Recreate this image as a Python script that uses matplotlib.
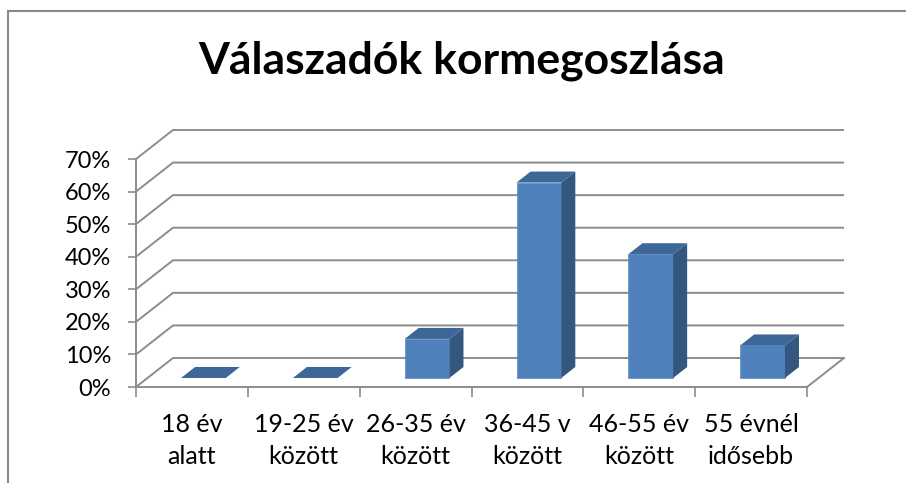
import matplotlib
matplotlib.use("Agg")
import matplotlib.pyplot as plt
from matplotlib.patches import Polygon
from matplotlib.lines import Line2D

categories = ["18 év\nalatt", "19-25 év\nközött", "26-35 év\nközött",
              "36-45 v\nközött", "46-55 év\nközött", "55 évnél\nidősebb"]
values = [0, 0, 12, 60, 38, 10]
yticks = [0, 10, 20, 30, 40, 50, 60, 70]
ytick_labels = [f"{t}%" for t in yticks]
title = "Válaszadók kormegoszlása"

plt.rcParams['font.family'] = ['Lato', 'DejaVu Sans']

W, H = 906, 483
fig = plt.figure(figsize=(W / 100, H / 100), dpi=100)
fig.patch.set_facecolor('white')

# front plane of the 3D box in pixels
x0, x1, yb, yt = 136, 807, 387, 159
ax = fig.add_axes([x0 / W, 1 - yb / H, (x1 - x0) / W, (yb - yt) / H])
n = len(categories)
ax.set_xlim(0, n)
ax.set_ylim(0, yticks[-1])
ax.set_facecolor('none')

# depth of the box in data units (37 px right, 29 px up)
DX = 37 / ((x1 - x0) / n)
DY = 29 / ((yb - yt) / yticks[-1])
grid_c = '#8c8c8c'

for t in yticks:
    ax.plot([0, DX, n + DX], [t, t + DY, t + DY], color=grid_c, lw=1.4,
            clip_on=False, zorder=1, solid_capstyle='butt')
ax.plot([n, n + DX], [0, DY], color=grid_c, lw=1.4, clip_on=False, zorder=1)

# bars
bw = 0.40
f0, f1 = 0.31, 0.69
front_c, side_c, top_c = '#4F81BD', '#34577F', '#3D6797'
for i, v in enumerate(values):
    xl = i + 0.5 - bw / 2 + f0 * DX
    xr = xl + bw
    yf = f0 * DY
    ddx = (f1 - f0) * DX
    ddy = (f1 - f0) * DY
    if v > 0:
        ax.add_patch(Polygon([(xl, yf), (xr, yf), (xr, yf + v), (xl, yf + v)],
                             closed=True, fc=front_c, ec='#5b8cc6', lw=0.5,
                             clip_on=False, zorder=3))
        ax.add_patch(Polygon([(xr, yf), (xr + ddx, yf + ddy), (xr + ddx, yf + ddy + v), (xr, yf + v)],
                             closed=True, fc=side_c, ec='none', clip_on=False, zorder=3))
    ax.add_patch(Polygon([(xl, yf + v), (xr, yf + v), (xr + ddx, yf + v + ddy), (xl + ddx, yf + v + ddy)],
                         closed=True, fc=top_c, ec='none', clip_on=False, zorder=3))

for s in ['top', 'right']:
    ax.spines[s].set_visible(False)
for s in ['left', 'bottom']:
    ax.spines[s].set_color(grid_c)
    ax.spines[s].set_linewidth(1.4)
    ax.spines[s].set_zorder(2)

ax.set_yticks(yticks, ytick_labels)
ax.tick_params(axis='y', length=6, width=1.2, color=grid_c, pad=12,
               labelsize=17, labelcolor='black')
ax.set_xticks(range(n + 1), [''] * (n + 1))
ax.tick_params(axis='x', which='major', length=7, width=1.2, color=grid_c)
ax.set_xticks([i + 0.5 for i in range(n)], categories, minor=True)
ax.tick_params(axis='x', which='minor', length=0, pad=19, labelsize=18,
               labelcolor='black')
for lab in ax.get_xticklabels(minor=True):
    lab.set_linespacing(1.45)

fig.text(462 / W, 1 - 61 / H, title, ha='center', va='center',
         fontsize=32, fontweight='bold')

# chart area border (top and left visible)
fig.add_artist(Line2D([8 / W, 1], [1 - 11 / H, 1 - 11 / H], color='#8a8a8a', lw=1.5))
fig.add_artist(Line2D([8 / W, 8 / W], [0, 1 - 11 / H], color='#8a8a8a', lw=1.5))

fig.savefig('out.png', dpi=100)
